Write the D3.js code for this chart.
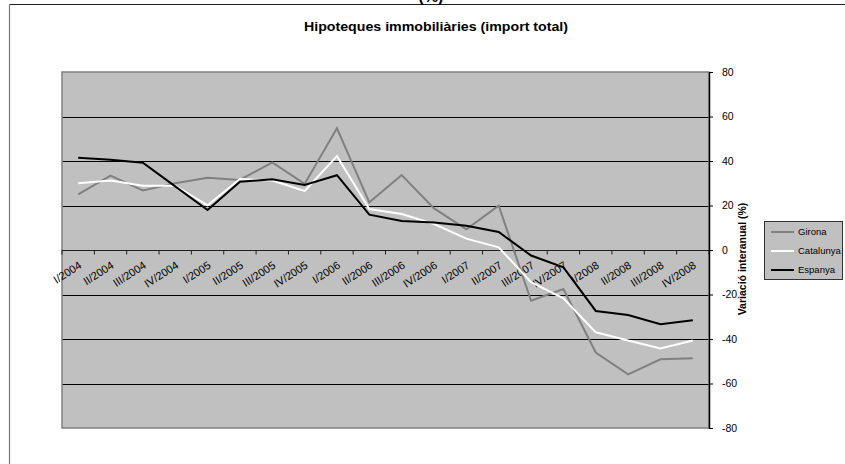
<!DOCTYPE html>
<html>
<head>
<meta charset="utf-8">
<script src="https://cdn.jsdelivr.net/npm/d3@7"></script>
<style>
  body { margin: 0; background: #fff; }
  svg { display: block; }
  text { font-family: "Liberation Sans", Arial, sans-serif; }
</style>
</head>
<body>
<svg id="chart" width="845" height="464"></svg>
<script>
// Quarterly year-on-year change in total mortgage amount (%)
const quarters = [
  "I/2004", "II/2004", "III/2004", "IV/2004",
  "I/2005", "II/2005", "III/2005", "IV/2005",
  "I/2006", "II/2006", "III/2006", "IV/2006",
  "I/2007", "II/2007", "III/2007", "IV/2007",
  "I/2008", "II/2008", "III/2008", "IV/2008"
];
const girona    = [25.0, 33.4, 26.8, 30.0, 32.5, 31.5, 39.4, 29.7, 54.7, 21.4, 33.7, 18.7, 9.3, 19.9, -22.8, -17.5, -46.1, -55.9, -49.1, -48.7];
const catalunya = [30.0, 31.2, 28.9, 28.9, 20.1, 31.9, 31.2, 26.5, 42.2, 18.4, 16.2, 11.7, 5.1, 1.2, -14.5, -21.7, -37.0, -40.7, -44.3, -40.7];
const espanya   = [41.5, 40.6, 39.2, 28.6, 18.0, 30.7, 31.8, 29.2, 33.6, 15.9, 13.0, 12.4, 10.9, 8.1, -2.5, -7.8, -27.4, -29.2, -33.4, -31.6];
const seriesNames = ["Girona", "Catalunya", "Espanya"];
const seriesColors = ["#808080", "#ffffff", "#000000"];
const yTicks = [80, 60, 40, 20, 0, -20, -40, -60, -80];

const svg = d3.select("#chart");
const plot = { left: 62, right: 709, top: 72, bottom: 428 };

const x = d3.scaleBand().domain(quarters).range([plot.left, plot.right]);
const y = d3.scaleLinear().domain([-80, 80]).range([plot.bottom, plot.top]);
const cx = q => x(q) + x.bandwidth() / 2;

// outer chart frame (runs past the right and bottom edges)
svg.append("line").attr("x1", 9.5).attr("y1", 4.5).attr("x2", 845).attr("y2", 4.5)
  .attr("stroke", "#222").attr("stroke-width", 1.2);
svg.append("line").attr("x1", 9.5).attr("y1", 4.5).attr("x2", 9.5).attr("y2", 464)
  .attr("stroke", "#777").attr("stroke-width", 1.2);

// heading text above the frame, mostly clipped
svg.append("text").attr("x", 431).attr("y", 2)
  .attr("text-anchor", "middle").attr("font-size", 16).attr("font-weight", "bold")
  .text("(%)");

// title
svg.append("text").attr("x", 436).attr("y", 31)
  .attr("text-anchor", "middle").attr("font-size", 12.5).attr("font-weight", "bold")
  .attr("textLength", 264).attr("lengthAdjust", "spacingAndGlyphs")
  .text("Hipoteques immobiliàries (import total)");

// plot background
svg.append("rect")
  .attr("x", plot.left).attr("y", plot.top)
  .attr("width", plot.right - plot.left).attr("height", plot.bottom - plot.top)
  .attr("fill", "#c0c0c0");

// horizontal gridlines
svg.append("g").selectAll("line")
  .data(yTicks.filter(t => Math.abs(t) !== 80 && t !== 0))
  .join("line")
  .attr("x1", plot.left).attr("x2", plot.right)
  .attr("y1", d => Math.round(y(d)) + 0.5).attr("y2", d => Math.round(y(d)) + 0.5)
  .attr("stroke", "#000").attr("stroke-width", 1);

// plot border
svg.append("rect")
  .attr("x", plot.left).attr("y", plot.top)
  .attr("width", plot.right - plot.left).attr("height", plot.bottom - plot.top)
  .attr("fill", "none").attr("stroke", "#808080").attr("stroke-width", 1.5);

// category axis at zero, ticks on the quarter boundaries
const y0 = Math.round(y(0)) + 0.5;
svg.append("line").attr("x1", plot.left).attr("x2", plot.right)
  .attr("y1", y0).attr("y2", y0).attr("stroke", "#202020").attr("stroke-width", 1.2);
svg.append("g").selectAll("line")
  .data(quarters.map(q => x(q)).concat([plot.right]))
  .join("line")
  .attr("x1", d => d).attr("x2", d => d)
  .attr("y1", y0).attr("y2", y0 + 4)
  .attr("stroke", "#202020").attr("stroke-width", 1);

// rotated quarter labels
svg.append("g").selectAll("text")
  .data(quarters)
  .join("text")
  .attr("transform", d => `translate(${cx(d) + 2},${264}) rotate(-33)`)
  .attr("text-anchor", "end").attr("dy", "0.35em")
  .attr("font-size", 11).attr("fill", "#000")
  .text(d => d);

// value axis on the right
const yAxis = svg.append("g")
  .attr("transform", `translate(${plot.right},0)`)
  .call(d3.axisRight(y).tickValues(yTicks).tickSize(4).tickPadding(9).tickSizeOuter(0)
    .tickFormat(d => String(d)));
yAxis.select(".domain").attr("stroke", "#000").attr("stroke-width", 1.5);
yAxis.selectAll(".tick line").attr("stroke", "#000");
yAxis.selectAll(".tick text")
  .attr("font-size", 10.5).attr("font-family", "\"Liberation Sans\", Arial, sans-serif").attr("fill", "#000");

// value axis title
svg.append("text")
  .attr("transform", `translate(746,259) rotate(-90)`)
  .attr("text-anchor", "middle").attr("font-size", 10.5).attr("font-weight", "bold")
  .text("Variació interanual (%)");

// series lines
const seriesData = [girona, catalunya, espanya];
const line = d3.line().x((d, i) => cx(quarters[i])).y(d => y(d));
svg.append("g").selectAll("path")
  .data(seriesData)
  .join("path")
  .attr("d", d => line(d))
  .attr("fill", "none")
  .attr("stroke", (d, i) => seriesColors[i])
  .attr("stroke-width", 2)
  .attr("stroke-linejoin", "miter");

// legend
const legend = svg.append("g");
legend.append("rect")
  .attr("x", 764.5).attr("y", 221.5).attr("width", 78).attr("height", 58)
  .attr("fill", "#c0c0c0").attr("stroke", "#333").attr("stroke-width", 1);
const rows = legend.selectAll("g.row")
  .data(seriesNames)
  .join("g").attr("class", "row")
  .attr("transform", (d, i) => `translate(0,${232 + i * 19})`);
rows.append("line")
  .attr("x1", 771).attr("x2", 794).attr("y1", 0).attr("y2", 0)
  .attr("stroke", (d, i) => seriesColors[i]).attr("stroke-width", 2);
rows.append("text")
  .attr("x", 798).attr("dy", "0.35em")
  .attr("font-size", 9.5).attr("fill", "#000")
  .text(d => d);
</script>
</body>
</html>
